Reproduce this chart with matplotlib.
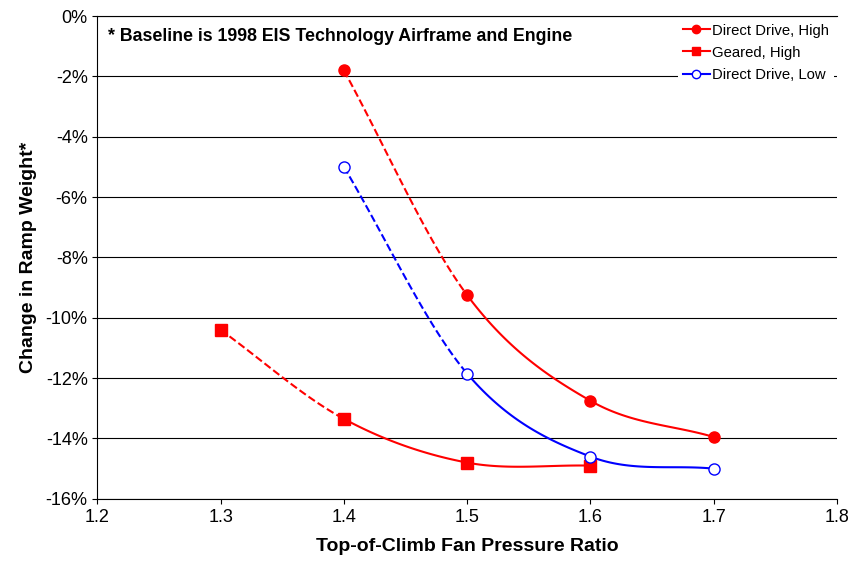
import numpy as np
import matplotlib
matplotlib.use("Agg")
import matplotlib.pyplot as plt
from matplotlib.ticker import FuncFormatter

plt.rcParams['font.family'] = ['Liberation Sans', 'DejaVu Sans']

fpr_dd = [1.4, 1.5, 1.6, 1.7]
dd_high = [-1.8, -9.25, -12.75, -13.95]
fpr_geared = [1.3, 1.4, 1.5, 1.6]
geared_high = [-10.4, -13.35, -14.8, -14.9]
dd_low = [-5.0, -11.85, -14.6, -15.0]


def smooth(x, y, n=40):
    # Excel-like smoothed line (Catmull-Rom), returned per segment
    x = np.asarray(x, float)
    y = np.asarray(y, float)
    px = np.concatenate([[2 * x[0] - x[1]], x, [2 * x[-1] - x[-2]]])
    py = np.concatenate([[2 * y[0] - y[1]], y, [2 * y[-1] - y[-2]]])
    segs = []
    t = np.linspace(0, 1, n)
    for i in range(1, len(px) - 2):
        def cr(p):
            return 0.5 * ((2 * p[i]) + (-p[i - 1] + p[i + 1]) * t
                          + (2 * p[i - 1] - 5 * p[i] + 4 * p[i + 1] - p[i + 2]) * t ** 2
                          + (-p[i - 1] + 3 * p[i] - 3 * p[i + 1] + p[i + 2]) * t ** 3)
        segs.append((cr(px), cr(py)))
    return segs


fig = plt.figure(figsize=(8.54, 5.74), dpi=100)
ax = fig.add_axes([0.114, 0.131, 0.866, 0.841])

series = [
    (fpr_dd, dd_high, "red", "o", "red", "Direct Drive, High"),
    (fpr_geared, geared_high, "red", "s", "red", "Geared, High"),
    (fpr_dd, dd_low, "blue", "o", "white", "Direct Drive, Low"),
]
for x, y, c, m, fc, lab in series:
    for i, (sx, sy) in enumerate(smooth(x, y)):
        ax.plot(sx, sy, color=c, lw=1.5, ls="--" if i == 0 else "-", zorder=2)
    ax.plot(x, y, color=c, lw=1.5, marker=m, ms=8, mfc=fc, mec=c, ls="none", zorder=3)
    ax.plot([], [], color=c, lw=1.5, marker=m, ms=6, mfc=fc, mec=c, label=lab)

ax.set_xlim(1.2, 1.8)
ax.set_ylim(-16, 0)
ax.set_xticks(np.arange(1.2, 1.81, 0.1))
ax.set_yticks(np.arange(-16, 0.1, 2))
ax.yaxis.set_major_formatter(FuncFormatter(lambda v, p: f"{v:.0f}%"))
ax.xaxis.set_major_formatter(FuncFormatter(lambda v, p: f"{v:.1f}"))
ax.grid(axis="y", color="black", lw=0.8)
ax.set_axisbelow(True)
ax.spines["right"].set_visible(False)
ax.spines["top"].set_linewidth(0.8)
ax.tick_params(labelsize=13, direction="out")
ax.set_xlabel("Top-of-Climb Fan Pressure Ratio", fontsize=14, fontweight="bold", labelpad=9)
ax.set_ylabel("Change in Ramp Weight*", fontsize=14, fontweight="bold", labelpad=6)
ax.text(0.015, 0.975, "* Baseline is 1998 EIS Technology Airframe and Engine",
        transform=ax.transAxes, fontsize=12.8, fontweight="bold", va="top")
leg = ax.legend(loc="upper right", fontsize=10.7, frameon=True, fancybox=False,
                edgecolor="none", facecolor="white", framealpha=1,
                handlelength=1.8, handletextpad=0.2, borderaxespad=0.2,
                labelspacing=0.55, borderpad=0.3)

fig.savefig("out.png", dpi=100)
